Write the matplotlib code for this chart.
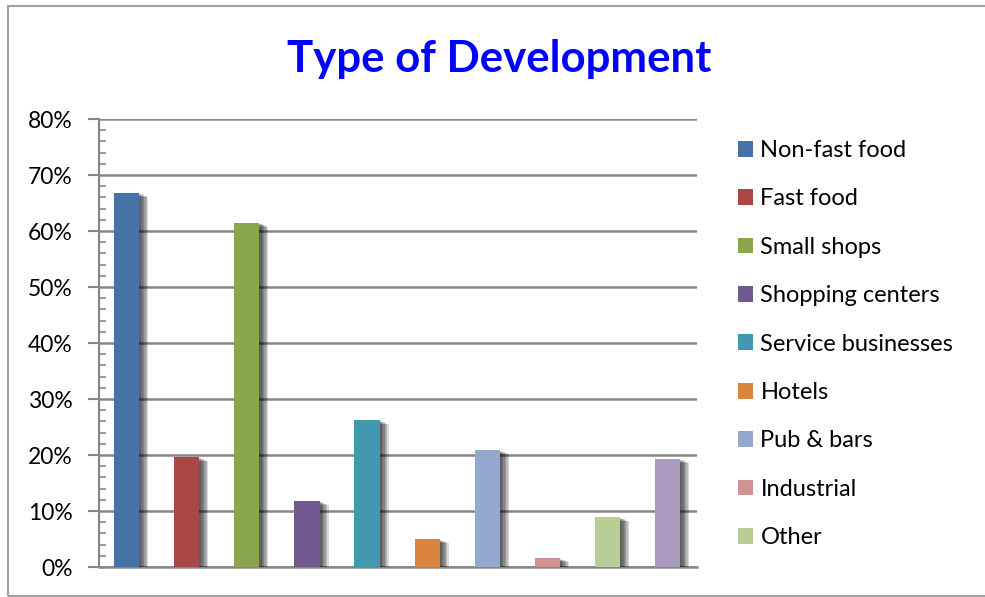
import matplotlib
matplotlib.use('Agg')
import matplotlib.pyplot as plt
import matplotlib.patheffects as pe
from matplotlib.patches import Rectangle
from matplotlib.ticker import MultipleLocator, PercentFormatter

categories = ['Non-fast food', 'Fast food', 'Small shops', 'Shopping centers',
              'Service businesses', 'Hotels', 'Pub & bars', 'Industrial', 'Other', '']
values = [0.668, 0.196, 0.615, 0.118, 0.262, 0.050, 0.209, 0.016, 0.089, 0.193]
colors = ['#4572A7', '#AA4643', '#89A54E', '#71588F', '#4198AF',
          '#DB843D', '#93A9CF', '#D19392', '#B9CD96', '#A99BBD']

plt.rcParams['font.family'] = ['Lato', 'DejaVu Sans']

fig = plt.figure(figsize=(9.85, 5.97), dpi=100)
ax = fig.add_axes([99 / 985, 1 - 567 / 597, 598 / 985, 448 / 597])

# figure frame
fig.patches.append(Rectangle((8 / 985, 1 - 596 / 597), 1.0, 590 / 597,
                             transform=fig.transFigure, fill=False,
                             edgecolor='#a0a0a0', linewidth=1.5))

# soft shadow faked with a few stacked offsets
shadow = [pe.SimplePatchShadow(offset=(d, -d * 0.45), shadow_rgbFace='black', alpha=0.15)
          for d in (1.5, 2.5, 3.5, 4.5, 5.5, 6.5)] + [pe.Normal()]

x = range(len(values))
bars = ax.bar(x, values, width=0.42, color=colors, zorder=3)
for b, lab in zip(bars, categories):
    b.set_path_effects(shadow)
    if lab:
        b.set_label(lab)
    else:
        b.set_label('_nolegend_')

ax.set_xlim(-0.46, 9.49)
ax.set_ylim(0, 0.8)
ax.yaxis.set_major_locator(MultipleLocator(0.1))
ax.yaxis.set_minor_locator(MultipleLocator(0.02))
ax.yaxis.set_major_formatter(PercentFormatter(1.0, decimals=0))
ax.grid(axis='y', which='major', color='#868686', linewidth=1.8, zorder=0)
ax.set_xticks([])
ax.tick_params(axis='y', which='major', length=8, width=1.5, color='#868686',
               labelsize=16.5, pad=11)
ax.tick_params(axis='y', which='minor', direction='in', length=5, width=1.2,
               color='#868686')
for s in ['top', 'right']:
    ax.spines[s].set_visible(False)
ax.spines['left'].set_color('#868686')
ax.spines['left'].set_linewidth(1.5)
ax.spines['bottom'].set_color('#868686')
ax.spines['bottom'].set_linewidth(1.8)

fig.text(499 / 985, 1 - 59 / 597, 'Type of Development', ha='center', va='center',
         fontsize=31.5, fontweight='bold', color='#0000FF')

leg = ax.legend(loc='upper left', bbox_to_anchor=(738 / 985, 1 - 140 / 597),
                bbox_transform=fig.transFigure, frameon=False, fontsize=17,
                handlelength=0.65, handleheight=0.65, handletextpad=0.3,
                labelspacing=1.16, borderaxespad=0, borderpad=0)
for h in leg.legend_handles:
    h.set_path_effects([])

fig.savefig('out.png', dpi=100)
